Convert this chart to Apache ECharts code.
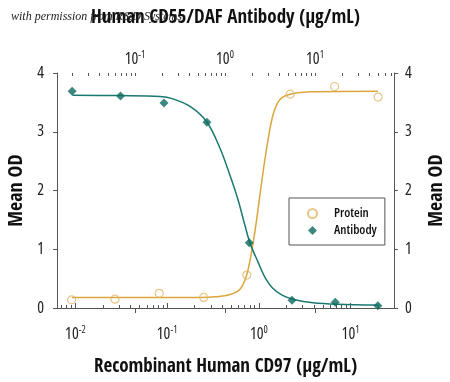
<!DOCTYPE html>
<html><head><meta charset="utf-8">
<script src="https://cdn.jsdelivr.net/npm/echarts@6/dist/echarts.min.js"></script>
<style>html,body{margin:0;padding:0;background:#fff}#c{width:450px;height:382px}</style>
</head><body><div id="c"></div>
<script>
// ---- data ----
const proteinX = [0.0091, 0.027, 0.082, 0.25, 0.74, 2.2, 6.7, 20];
const proteinY = [0.14, 0.15, 0.25, 0.18, 0.56, 3.64, 3.77, 3.59];
const antibodyX = [0.020, 0.069, 0.21, 0.63, 1.86, 5.55, 16.8, 50];
const antibodyY = [3.69, 3.61, 3.49, 3.16, 1.11, 0.13, 0.10, 0.04];
// fitted curves
const proteinFitX = [0.0092, 0.084, 0.228, 0.333, 0.485, 0.624, 0.743, 0.865, 0.956, 1.03, 1.11, 1.23, 1.43, 1.70, 2.19, 3.90, 19.9];
const proteinFitY = [0.18, 0.18, 0.18, 0.19, 0.23, 0.32, 0.58, 1.10, 1.55, 1.93, 2.30, 2.76, 3.29, 3.55, 3.64, 3.68, 3.69];
const antibodyFitX = [0.0202, 0.0683, 0.19, 0.264, 0.409, 0.626, 0.88, 1.14, 1.39, 1.67, 1.90, 2.33, 2.78, 3.33, 4.30, 6.0, 9.5, 17.6, 50];
const antibodyFitY = [3.62, 3.615, 3.60, 3.56, 3.43, 3.17, 2.72, 2.25, 1.85, 1.40, 1.10, 0.78, 0.52, 0.35, 0.22, 0.14, 0.09, 0.065, 0.05];
const majorTicks = [0.01, 0.1, 1, 10];
const bottomTitle = 'Recombinant Human CD97 (\u03bcg/mL)';
const topTitle = 'Human CD55/DAF Antibody (\u03bcg/mL)';
const yTitle = 'Mean OD';
const seriesNames = ['Protein', 'Antibody'];

const FONT_B = "'Open Sans Condensed','Open Sans','Roboto Condensed',sans-serif";
const FONT_R = "'Open Sans','Roboto Condensed',sans-serif";
const W_BOLD = 'bold condensed', W_REG = 'normal condensed', W_MED = '600 condensed';
const TEAL = '#1b7870', TEAL_D = '#0d6a5e', ORANGE = '#dba63c', ORANGE_L = '#e2b66a', AX = '#555';

const minorTicks = [];
for (let e = -3; e <= 2; e++) for (let k = 1; k <= 9; k++) minorTicks.push(+(k * Math.pow(10, e)).toPrecision(3));

function pairs(xs, ys) { return xs.map((x, i) => [x, ys[i]]); }
const supFmt = v => '{b|10}{s|' + Math.round(Math.log10(v)) + '}';
const labelRich = {
  b: { fontSize: 16, lineHeight: 19, fontFamily: FONT_R, fontWeight: W_REG, color: '#222' },
  s: { fontSize: 10, lineHeight: 10, verticalAlign: 'top', fontFamily: FONT_R, fontWeight: W_REG, color: '#222' }
};

function xAxisMain(pos, min, max, name, gap) {
  return {
    type: 'log', logBase: 10, position: pos, min: min, max: max,
    name: name, nameLocation: 'middle', nameGap: gap,
    nameTextStyle: { fontFamily: FONT_B, fontSize: 19, fontWeight: W_BOLD, color: '#111' },
    axisLine: { show: true, lineStyle: { color: AX, width: 1 } },
    axisTick: { show: true, inside: true, length: 5, customValues: majorTicks, lineStyle: { color: AX } },
    axisLabel: { show: true, margin: pos === 'bottom' ? 17 : 4, customValues: majorTicks, formatter: supFmt, rich: labelRich },
    splitLine: { show: false }, minorTick: { show: false }
  };
}
function xAxisMinor(pos, min, max) {
  return {
    type: 'log', logBase: 10, position: pos, min: min, max: max,
    axisLine: { show: false },
    axisTick: { show: true, inside: true, length: 3, customValues: minorTicks, lineStyle: { color: AX } },
    axisLabel: { show: false }, splitLine: { show: false }
  };
}
function yAxis(pos, gap, margin) {
  return {
    type: 'value', position: pos, min: 0, max: 4, interval: 1,
    name: yTitle, nameLocation: 'middle', nameGap: gap, nameRotate: 90,
    nameTextStyle: { fontFamily: FONT_B, fontSize: 20, fontWeight: W_BOLD, color: '#111' },
    axisLine: { show: true, lineStyle: { color: AX, width: 1 } },
    axisTick: { show: true, length: 4, lineStyle: { color: AX } },
    axisLabel: { margin: margin, fontFamily: FONT_R, fontWeight: W_REG, fontSize: 16, color: '#222' },
    splitLine: { show: false }
  };
}

const chart = echarts.init(document.getElementById('c'), null, { renderer: 'canvas' });
chart.setOption({
  animation: false,
  backgroundColor: '#fff',
  grid: { left: 57, right: 56, top: 73, bottom: 74, containLabel: false, outerBoundsMode: 'none' },
  xAxis: [
    xAxisMain('bottom', 0.0063, 29.8, bottomTitle, 50),
    xAxisMain('top', 0.01359, 75.5, topTitle, 45),
    xAxisMinor('bottom', 0.0063, 29.8),
    xAxisMinor('top', 0.01359, 75.5)
  ],
  yAxis: [yAxis('left', 30, 13), yAxis('right', 33, 11)],
  legend: {
    orient: 'vertical', left: 289, top: 198,
    data: seriesNames,
    itemWidth: 9, itemHeight: 9, itemGap: 2,
    padding: [8, 8, 7, 18],
    borderColor: '#555', borderWidth: 1, backgroundColor: '#fff',
    textStyle: { fontFamily: FONT_R, fontWeight: W_MED, fontSize: 13, lineHeight: 15, color: '#111', padding: [0, 0, 0, 12] }
  },
  graphic: [{
    type: 'text', left: 11, top: 11, z: 100,
    style: { text: 'with permission from R&D Systems', fontFamily: "'Liberation Serif','DejaVu Serif',serif", fontStyle: 'italic', fontSize: 12, fill: '#222' }
  }],
  series: [
    { type: 'line', name: 'proteinFit', xAxisIndex: 0, yAxisIndex: 0, data: pairs(proteinFitX, proteinFitY),
      showSymbol: false, smooth: 0.35, lineStyle: { color: ORANGE, width: 1.5 }, itemStyle: { color: ORANGE }, silent: true, z: 2 },
    { type: 'line', name: 'antibodyFit', xAxisIndex: 1, yAxisIndex: 0, data: pairs(antibodyFitX, antibodyFitY),
      showSymbol: false, smooth: 0.35, lineStyle: { color: TEAL, width: 1.5 }, itemStyle: { color: TEAL }, silent: true, z: 2 },
    { type: 'scatter', name: seriesNames[0], xAxisIndex: 0, yAxisIndex: 0, data: pairs(proteinX, proteinY),
      symbol: 'circle', symbolSize: 8, itemStyle: { color: 'rgba(255,255,255,0)', borderColor: ORANGE_L, borderWidth: 1.2 }, z: 5 },
    { type: 'scatter', name: seriesNames[1], xAxisIndex: 1, yAxisIndex: 0, data: pairs(antibodyX, antibodyY),
      symbol: 'diamond', symbolSize: 9, itemStyle: { color: TEAL_D }, z: 5 }
  ]
});
</script></body></html>
